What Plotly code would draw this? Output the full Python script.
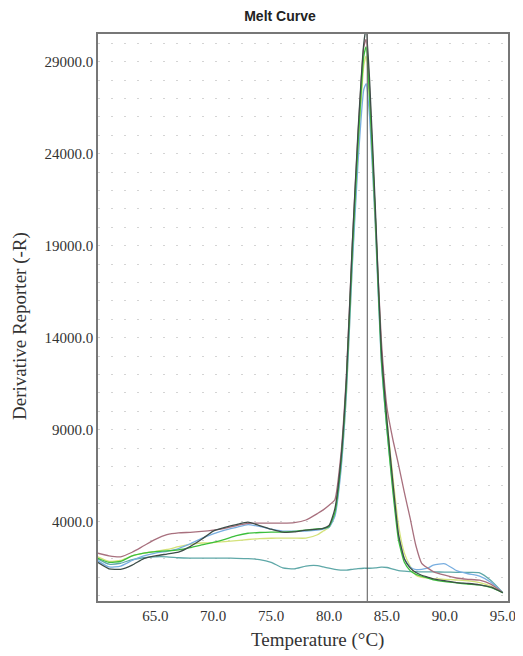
import plotly.graph_objects as go

temperature = [60, 61, 62, 63, 64, 65, 66, 67, 68, 69, 70, 71, 72, 73, 74, 75, 76, 77, 78, 79,
               79.5, 80, 80.5, 81, 81.5, 82, 82.5, 83, 83.2, 83.5, 84, 84.5, 85, 85.5, 86, 86.5,
               87, 87.5, 88, 88.5, 89, 90, 91, 92, 93, 94, 95]

well_red = [2300, 2150, 2100, 2350, 2700, 3050, 3300, 3400, 3430, 3480, 3550, 3650, 3800, 3920, 3930,
            3930, 3930, 3960, 4100, 4450,
            4650, 4900, 5200, 7500, 12000, 19000, 25000, 29800, 30200, 27500, 20500, 14000, 10200,
            8500, 7100, 5600, 4200, 2700, 1750, 1500, 1300,
            1100, 950, 880, 830, 600, 150]

well_dark = [1810, 1450, 1420, 1650, 2000, 2150, 2250, 2350, 2650, 3050, 3500, 3700, 3850, 3980, 3800,
             3600, 3440, 3450, 3550, 3600,
             3650, 3800, 4700, 7200, 11800, 19000, 25200, 30000, 30800, 28000, 21000, 13500, 9500,
             6200, 3300, 2000, 1500, 1250, 1100, 1000, 900,
             800, 700, 650, 580, 450, 150]

well_green = [2030, 1800, 1850, 2150, 2300, 2380, 2420, 2480, 2600, 2750, 2880, 3050, 3250, 3380, 3420,
              3440, 3440, 3480, 3550, 3620,
              3650, 3750, 4500, 7000, 11500, 18500, 24500, 29300, 29800, 27000, 20500, 13000, 9000,
              5700, 3000, 1800, 1350, 1150, 1050, 950, 850,
              750, 680, 620, 570, 420, 150]

well_yellow = [2100, 1850, 1900, 2150, 2300, 2400, 2500, 2650, 2780, 2850, 2870, 2920, 2980, 3040, 3090,
               3110, 3115, 3115, 3115, 3300,
               3500, 3700, 4400, 6800, 11000, 18000, 24000, 28800, 29300, 26800, 20000, 13500, 9500,
               6500, 3800, 2300, 1600, 1100, 980, 950, 920,
               880, 840, 800, 700, 500, 150]

well_blue = [1900, 1550, 1600, 1900, 2150, 2300, 2400, 2550, 2800, 3100, 3350, 3550, 3700, 3850, 3750,
             3600, 3500, 3500, 3500, 3550,
             3600, 3700, 4300, 6600, 11000, 17800, 23500, 27500, 27800, 26000, 20000, 12800, 9000,
             5900, 3200, 2000, 1550, 1400, 1420, 1480, 1650,
             1720, 1350, 1180, 1050, 700, 150]

well_teal = [2000, 1700, 1750, 1950, 2050, 2100, 2100, 2050, 2030, 2030, 2030, 2030, 2020, 2000, 1950,
             1800, 1500, 1450, 1600, 1620,
             1550, 1480, 1420, 1380, 1380, 1420, 1460, 1480, 1480, 1480, 1500, 1540, 1520,
             1430, 1350, 1320, 1300, 1290, 1280, 1280, 1280,
             1270, 1260, 1250, 1230, 800, 150]

series = [
    ("Well A", well_teal, "#5fa8a8"),
    ("Well B", well_yellow, "#d4e27a"),
    ("Well C", well_blue, "#78aee0"),
    ("Well D", well_red, "#a8707e"),
    ("Well E", well_green, "#3cbf3c"),
    ("Well F", well_dark, "#3d4d48"),
]

y_ticks = [4000, 9000, 14000, 19000, 24000, 29000]
x_ticks = [65, 70, 75, 80, 85, 90, 95]
marker_temp = 83.3

fig = go.Figure()
for name, vals, col in series:
    fig.add_trace(go.Scatter(x=temperature, y=vals, mode="lines", name=name,
                             line=dict(color=col, width=1.3, shape="spline", smoothing=0.5)))

fig.add_vline(x=marker_temp, line=dict(color="#555555", width=1))

serif = "Liberation Serif, Times New Roman, serif"
W, H = 515, 648
L, R, T, B = 90, 15, 26, 55
PW = W - L - R
fig.update_layout(
    width=W, height=H,
    margin=dict(l=L, r=R, t=T, b=B),
    paper_bgcolor="white", plot_bgcolor="white",
    showlegend=False,
    title=dict(text="<b>Melt Curve</b>", x=272 / W, xanchor="center", y=1 - 8 / H, yanchor="middle",
               font=dict(family="Liberation Sans, Arial, sans-serif", size=14, color="#222222")),
    xaxis=dict(range=[60.05, 95.45], tickvals=x_ticks, tickformat=".1f",
               showgrid=False, zeroline=False, automargin=False,
               showline=True, linecolor="#777777", linewidth=1.5, mirror=True, ticks="",
               tickfont=dict(family=serif, size=15, color="#333333")),
    yaxis=dict(range=[-300, 30500], tickvals=y_ticks, tickformat=".1f",
               showgrid=True, gridcolor="#d4d4d4", griddash="2px,11px", gridwidth=1,
               zeroline=False, automargin=False,
               showline=True, linecolor="#777777", linewidth=1.5, mirror=True, ticks="",
               tickfont=dict(family=serif, size=15, color="#333333")),
    annotations=[
        dict(text="Temperature (°C)", xref="paper", yref="paper", x=(309 - L) / PW,
             y=-0.068, xanchor="center", yanchor="middle", showarrow=False,
             font=dict(family=serif, size=19, color="#333333")),
        dict(text="Derivative Reporter (-R)", xref="paper", yref="paper", x=(12 - L) / PW,
             y=0.485, xanchor="center", yanchor="middle", textangle=-90, showarrow=False,
             font=dict(family=serif, size=19, color="#333333")),
    ],
)

fig.update_yaxes(minor=dict(tickvals=list(range(0, 30001, 1000)), showgrid=True,
                            gridcolor="#d4d4d4", griddash="2px,11px", gridwidth=1, ticks=""))

fig.write_html("out.html")
